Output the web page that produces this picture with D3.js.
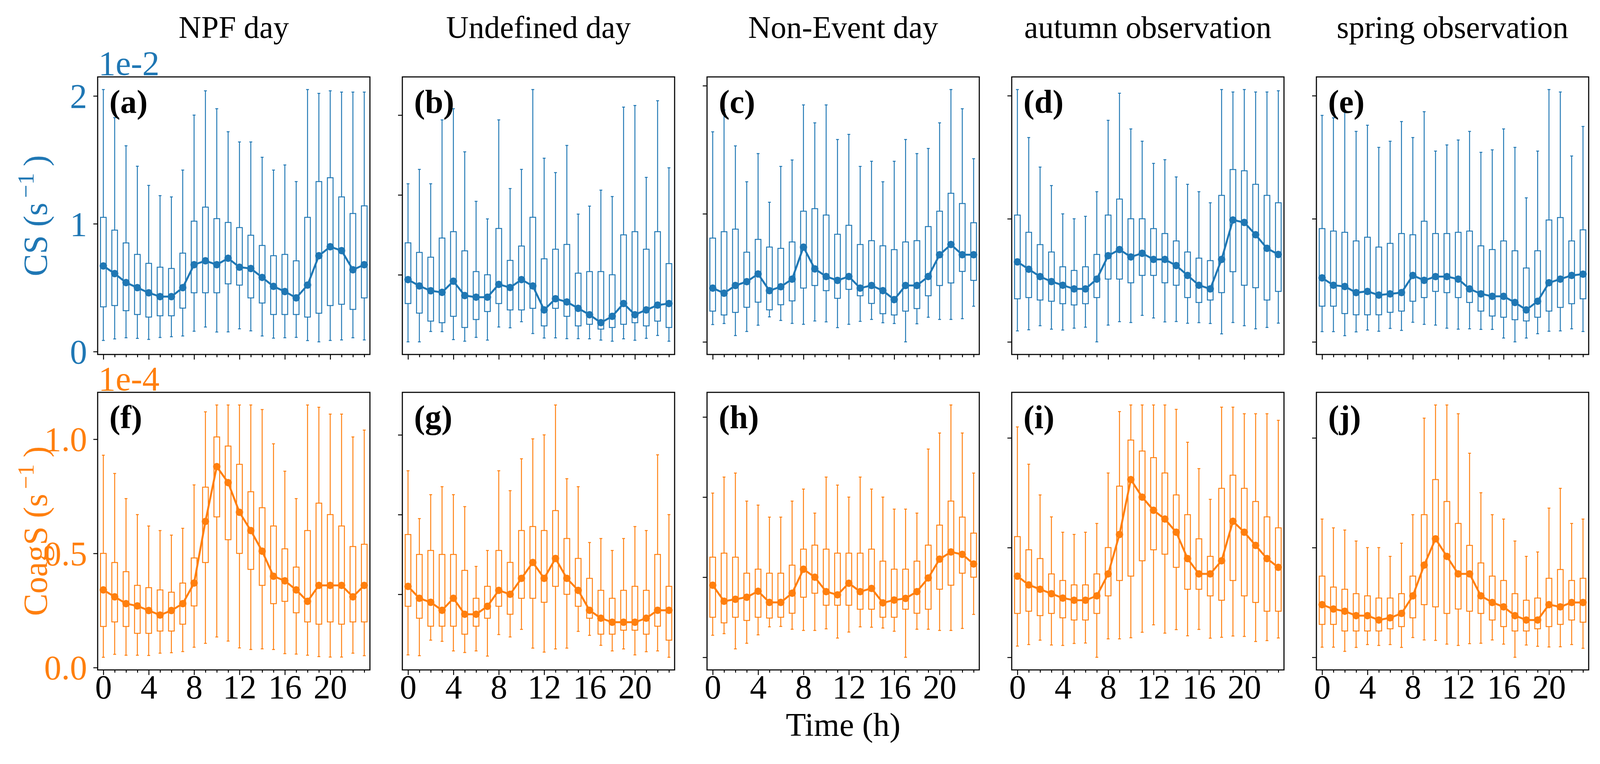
<!DOCTYPE html>
<html>
<head>
<meta charset="utf-8">
<script src="https://cdn.jsdelivr.net/npm/d3@7"></script>
<style>
  html, body { margin: 0; padding: 0; background: #fff; overflow: hidden; }
  svg { display: block; }
</style>
</head>
<body>
<div id="chart"></div>
<script>
// hours of the day, one box per hour
const hours = [0,1,2,3,4,5,6,7,8,9,10,11,12,13,14,15,16,17,18,19,20,21,22,23];
const hourLabels = ["0","4","8","12","16","20"];
const columnTitles = ["NPF day", "Undefined day", "Non-Event day", "autumn observation", "spring observation"];
const panelLetters = ["(a)","(b)","(c)","(d)","(e)","(f)","(g)","(h)","(i)","(j)"];

// CS, units of 1e-2 s^-1 : whisker high, q3, q1, whisker low, mean
const npfCsHi   = [2.05,1.83,1.61,1.45,1.30,1.22,1.21,1.42,1.85,2.04,1.90,1.72,1.64,1.64,1.52,1.42,1.46,1.33,2.05,2.02,2.04,2.03,2.03,2.03];
const npfCsQ3   = [1.05,0.95,0.85,0.76,0.69,0.66,0.65,0.77,1.02,1.13,1.04,1.01,0.97,0.91,0.83,0.75,0.76,0.71,1.05,1.33,1.36,1.21,1.08,1.14];
const npfCsQ1   = [0.35,0.36,0.32,0.29,0.27,0.28,0.28,0.34,0.46,0.46,0.46,0.53,0.52,0.42,0.38,0.29,0.29,0.29,0.27,0.30,0.36,0.37,0.33,0.42];
const npfCsLo   = [0.087,0.099,0.108,0.103,0.095,0.110,0.116,0.122,0.159,0.192,0.153,0.154,0.178,0.162,0.122,0.105,0.108,0.111,0.086,0.076,0.087,0.091,0.108,0.091];
const npfCsMean = [0.67,0.61,0.54,0.50,0.46,0.43,0.43,0.50,0.68,0.71,0.68,0.73,0.66,0.65,0.58,0.51,0.47,0.42,0.52,0.75,0.82,0.79,0.64,0.68];

const undCsHi   = [1.07,1.16,1.07,1.47,1.54,1.27,0.96,0.85,1.47,1.04,1.16,1.66,1.23,1.14,1.31,0.88,0.93,1.03,0.99,1.55,1.56,1.11,1.59,1.17];
const undCsQ3   = [0.70,0.64,0.61,0.73,0.77,0.65,0.52,0.50,0.79,0.59,0.68,0.86,0.60,0.66,0.69,0.51,0.52,0.52,0.50,0.75,0.77,0.66,0.77,0.57];
const undCsQ1   = [0.32,0.26,0.21,0.20,0.24,0.17,0.22,0.27,0.32,0.28,0.28,0.29,0.18,0.29,0.24,0.18,0.19,0.16,0.17,0.19,0.20,0.18,0.21,0.17];
const undCsLo   = [0.080,0.080,0.145,0.144,0.094,0.084,0.108,0.091,0.173,0.168,0.206,0.132,0.104,0.105,0.100,0.100,0.099,0.091,0.084,0.099,0.090,0.102,0.120,0.084];
const undCsMean = [0.47,0.43,0.40,0.39,0.46,0.37,0.36,0.36,0.44,0.42,0.47,0.43,0.28,0.35,0.33,0.29,0.25,0.20,0.24,0.32,0.25,0.28,0.31,0.32];

const nonCsHi   = [1.64,1.81,1.53,1.25,1.47,1.09,1.37,1.42,1.85,1.71,1.85,1.58,1.62,1.37,1.41,1.25,1.41,1.58,1.47,1.51,1.71,1.97,1.82,1.43];
const nonCsQ3   = [0.81,0.86,0.88,0.70,0.80,0.74,0.73,0.78,1.02,1.04,0.99,0.84,0.91,0.76,0.79,0.75,0.72,0.78,0.79,0.90,1.02,1.16,1.08,0.93];
const nonCsQ1   = [0.24,0.21,0.23,0.27,0.31,0.25,0.29,0.32,0.42,0.44,0.40,0.34,0.41,0.36,0.30,0.22,0.21,0.24,0.26,0.36,0.44,0.46,0.55,0.48];
const nonCsLo   = [0.135,0.143,0.049,0.081,0.130,0.195,0.167,0.144,0.137,0.163,0.156,0.111,0.137,0.160,0.175,0.149,0.143,0.000,0.141,0.192,0.175,0.175,0.181,0.278];
const nonCsMean = [0.42,0.38,0.44,0.47,0.53,0.40,0.43,0.49,0.74,0.57,0.51,0.48,0.51,0.42,0.44,0.40,0.33,0.44,0.44,0.51,0.68,0.76,0.68,0.68];

const autCsHi   = [2.05,1.66,1.42,1.27,1.04,1.00,1.02,1.22,1.80,2.02,1.73,1.63,1.45,1.48,1.34,1.28,1.22,1.13,2.05,2.03,2.05,2.03,2.03,2.04];
const autCsQ3   = [1.03,0.89,0.79,0.73,0.61,0.58,0.61,0.71,1.03,1.16,1.00,1.00,0.92,0.88,0.82,0.73,0.68,0.66,1.19,1.40,1.39,1.28,1.19,1.13];
const autCsQ1   = [0.35,0.36,0.34,0.33,0.31,0.30,0.31,0.36,0.51,0.51,0.48,0.54,0.54,0.48,0.46,0.36,0.32,0.34,0.40,0.57,0.46,0.44,0.34,0.41];
const autCsLo   = [0.089,0.098,0.131,0.103,0.096,0.111,0.119,0.000,0.136,0.164,0.157,0.215,0.194,0.162,0.165,0.151,0.156,0.149,0.065,0.157,0.131,0.106,0.117,0.152];
const autCsMean = [0.65,0.59,0.53,0.49,0.46,0.43,0.43,0.51,0.70,0.75,0.69,0.72,0.67,0.67,0.62,0.54,0.46,0.43,0.67,0.99,0.97,0.87,0.76,0.71];

const sprCsHi   = [1.84,1.82,1.88,1.71,1.76,1.58,1.63,1.79,1.66,1.87,1.55,1.60,1.64,1.71,1.54,1.56,1.73,1.58,1.17,1.55,2.05,2.03,1.51,1.75];
const sprCsQ3   = [0.92,0.90,0.89,0.82,0.85,0.77,0.80,0.88,0.87,0.98,0.88,0.88,0.89,0.90,0.78,0.75,0.82,0.74,0.60,0.74,0.99,1.01,0.82,0.91];
const sprCsQ1   = [0.29,0.29,0.23,0.22,0.22,0.22,0.24,0.25,0.33,0.36,0.41,0.40,0.36,0.32,0.25,0.21,0.20,0.18,0.17,0.20,0.25,0.28,0.31,0.35];
const sprCsLo   = [0.083,0.083,0.050,0.081,0.096,0.086,0.109,0.093,0.159,0.142,0.136,0.111,0.103,0.106,0.101,0.101,0.031,0.000,0.031,0.066,0.086,0.089,0.106,0.084];
const sprCsMean = [0.52,0.46,0.45,0.40,0.41,0.38,0.39,0.40,0.54,0.50,0.53,0.53,0.51,0.43,0.39,0.37,0.37,0.32,0.26,0.33,0.48,0.51,0.54,0.55];

// CoagS, units of 1e-4 s^-1
const npfCoHi   = [0.93,0.85,0.74,0.67,0.62,0.60,0.58,0.61,0.80,1.12,1.15,1.15,1.15,1.15,1.13,0.98,0.86,0.74,1.15,1.14,1.11,1.11,1.01,1.04];
const npfCoQ3   = [0.50,0.46,0.42,0.36,0.35,0.34,0.33,0.37,0.48,0.79,1.01,0.97,0.89,0.77,0.70,0.62,0.52,0.44,0.60,0.72,0.67,0.62,0.53,0.54];
const npfCoQ1   = [0.18,0.20,0.18,0.15,0.15,0.16,0.16,0.19,0.27,0.46,0.66,0.56,0.50,0.43,0.36,0.28,0.29,0.24,0.20,0.19,0.20,0.19,0.20,0.20];
const npfCoLo   = [0.045,0.058,0.054,0.054,0.053,0.063,0.065,0.070,0.089,0.106,0.134,0.116,0.086,0.079,0.082,0.079,0.061,0.059,0.054,0.048,0.046,0.046,0.063,0.052];
const npfCoMean = [0.34,0.31,0.28,0.27,0.25,0.23,0.25,0.28,0.37,0.64,0.88,0.81,0.68,0.60,0.51,0.40,0.38,0.34,0.29,0.36,0.36,0.36,0.31,0.36];

const undCoHi   = [0.51,0.39,0.45,0.47,0.45,0.42,0.27,0.31,0.51,0.46,0.54,0.59,0.60,0.675,0.49,0.47,0.33,0.34,0.31,0.34,0.37,0.36,0.55,0.40];
const undCoQ3   = [0.35,0.30,0.31,0.30,0.30,0.26,0.19,0.22,0.31,0.28,0.36,0.37,0.36,0.41,0.34,0.29,0.24,0.21,0.19,0.21,0.22,0.21,0.30,0.22];
const undCoQ1   = [0.17,0.14,0.12,0.12,0.12,0.10,0.12,0.14,0.17,0.15,0.19,0.19,0.18,0.22,0.20,0.17,0.14,0.10,0.10,0.11,0.11,0.10,0.12,0.085];
const undCoLo   = [0.048,0.046,0.085,0.082,0.058,0.054,0.058,0.045,0.099,0.093,0.112,0.065,0.055,0.063,0.065,0.107,0.097,0.072,0.058,0.063,0.048,0.056,0.058,0.042];
const undCoMean = [0.22,0.19,0.18,0.16,0.19,0.15,0.15,0.17,0.21,0.20,0.24,0.28,0.24,0.29,0.24,0.21,0.16,0.14,0.13,0.13,0.13,0.14,0.16,0.16];

const nonCoHi   = [0.41,0.45,0.46,0.39,0.38,0.35,0.35,0.39,0.42,0.36,0.45,0.43,0.40,0.45,0.42,0.40,0.37,0.37,0.36,0.52,0.56,0.63,0.56,0.46];
const nonCoQ3   = [0.25,0.26,0.25,0.21,0.22,0.21,0.21,0.23,0.27,0.28,0.27,0.26,0.26,0.26,0.27,0.24,0.22,0.22,0.24,0.28,0.33,0.39,0.35,0.31];
const nonCoQ1   = [0.10,0.086,0.10,0.092,0.10,0.098,0.10,0.11,0.15,0.16,0.13,0.13,0.13,0.12,0.12,0.10,0.10,0.12,0.11,0.12,0.17,0.18,0.21,0.20];
const nonCoLo   = [0.055,0.059,0.021,0.035,0.056,0.076,0.077,0.070,0.067,0.067,0.071,0.048,0.063,0.076,0.075,0.073,0.065,0.000,0.070,0.070,0.067,0.067,0.072,0.107];
const nonCoMean = [0.18,0.14,0.145,0.15,0.165,0.137,0.137,0.16,0.22,0.20,0.164,0.156,0.185,0.164,0.172,0.136,0.143,0.147,0.164,0.198,0.245,0.263,0.257,0.233];

const autCoHi   = [1.05,0.88,0.74,0.64,0.57,0.56,0.57,0.61,0.84,1.12,1.15,1.15,1.15,1.15,1.13,0.98,0.86,0.72,1.14,1.14,1.11,1.11,1.11,1.08];
const autCoQ3   = [0.55,0.49,0.45,0.38,0.35,0.33,0.33,0.38,0.50,0.78,0.99,0.94,0.91,0.84,0.74,0.65,0.54,0.46,0.77,0.83,0.77,0.71,0.64,0.59];
const autCoQ1   = [0.20,0.21,0.19,0.20,0.18,0.17,0.17,0.20,0.28,0.35,0.37,0.44,0.49,0.47,0.41,0.31,0.31,0.28,0.26,0.35,0.28,0.25,0.21,0.21];
const autCoLo   = [0.051,0.058,0.078,0.056,0.054,0.063,0.065,0.000,0.084,0.084,0.089,0.114,0.148,0.110,0.126,0.098,0.127,0.087,0.091,0.097,0.095,0.072,0.076,0.088];
const autCoMean = [0.37,0.33,0.31,0.29,0.27,0.26,0.26,0.28,0.38,0.56,0.81,0.73,0.67,0.63,0.57,0.45,0.38,0.38,0.44,0.62,0.57,0.51,0.45,0.41];

const sprCoHi   = [0.63,0.59,0.58,0.53,0.50,0.50,0.46,0.52,0.65,1.09,1.15,1.15,1.11,0.93,0.75,0.65,0.63,0.53,0.46,0.48,0.68,0.77,0.61,0.63];
const sprCoQ3   = [0.37,0.32,0.31,0.29,0.28,0.27,0.27,0.29,0.37,0.65,0.81,0.71,0.61,0.51,0.43,0.37,0.35,0.29,0.26,0.27,0.36,0.40,0.35,0.36];
const sprCoQ1   = [0.15,0.15,0.12,0.12,0.12,0.12,0.13,0.14,0.18,0.24,0.23,0.20,0.22,0.21,0.20,0.17,0.14,0.12,0.12,0.13,0.14,0.15,0.17,0.16];
const sprCoLo   = [0.046,0.046,0.027,0.045,0.058,0.054,0.058,0.045,0.090,0.079,0.077,0.060,0.054,0.062,0.064,0.079,0.060,0.000,0.056,0.050,0.047,0.048,0.058,0.041];
const sprCoMean = [0.24,0.22,0.21,0.19,0.19,0.17,0.18,0.20,0.28,0.42,0.54,0.46,0.38,0.38,0.28,0.25,0.23,0.19,0.17,0.17,0.24,0.23,0.25,0.25];

// y tick values per panel (only first column shows labels)
const csTicks = [[0,1,2],[0.5,1,1.5],[0,1,2],[0,1,2],[0,1,2]];
const coTicks = [[0,0.5,1],[0.2,0.4,0.6],[0,0.2,0.4,0.6],[0,0.5,1],[0,0.5,1]];

const csSeries = [
  [npfCsLo, npfCsQ1, npfCsQ3, npfCsHi, npfCsMean],
  [undCsLo, undCsQ1, undCsQ3, undCsHi, undCsMean],
  [nonCsLo, nonCsQ1, nonCsQ3, nonCsHi, nonCsMean],
  [autCsLo, autCsQ1, autCsQ3, autCsHi, autCsMean],
  [sprCsLo, sprCsQ1, sprCsQ3, sprCsHi, sprCsMean]
];
const coSeries = [
  [npfCoLo, npfCoQ1, npfCoQ3, npfCoHi, npfCoMean],
  [undCoLo, undCoQ1, undCoQ3, undCoHi, undCoMean],
  [nonCoLo, nonCoQ1, nonCoQ3, nonCoHi, nonCoMean],
  [autCoLo, autCoQ1, autCoQ3, autCoHi, autCoMean],
  [sprCoLo, sprCoQ1, sprCoQ3, sprCoHi, sprCoMean]
];

const W = 4204, H = 1957;
const FONT = "'Liberation Serif', 'Times New Roman', serif";
const BLUE = "#1f77b4", ORANGE = "#ff7f0e";

const panelLeft0 = 250, panelW = 697, panelPitch = 780;
const rows = [
  { top: 197, bottom: 908, color: BLUE, series: csSeries, ticks: csTicks, fmt: d3.format("d"), offset: "1e-2", name: "CS" },
  { top: 1005, bottom: 1716, color: ORANGE, series: coSeries, ticks: coTicks, fmt: d3.format(".1f"), offset: "1e-4", name: "CoagS" }
];

const svg = d3.select("#chart").append("svg")
  .attr("width", W)
  .attr("height", H)
  .style("font-family", FONT);

svg.append("rect").attr("width", W).attr("height", H).attr("fill", "#fff");

// column titles
columnTitles.forEach((t, c) => {
  svg.append("text")
    .attr("x", panelLeft0 + c * panelPitch + panelW / 2)
    .attr("y", 97)
    .attr("text-anchor", "middle")
    .attr("font-size", 80)
    .attr("fill", "#000")
    .text(t);
});

rows.forEach((row, r) => {
  row.series.forEach((s, c) => {
    const [lo, q1, q3, hi, mean] = s;
    const left = panelLeft0 + c * panelPitch;
    const right = left + panelW;

    const x = d3.scaleLinear().domain([-0.5, 23.5]).range([left, right]);
    const dmin = d3.min(lo), dmax = d3.max(hi);
    const pad = (dmax - dmin) * 0.05;
    const y = d3.scaleLinear().domain([dmin - pad, dmax + pad]).range([row.bottom, row.top]);

    const step = x(1) - x(0);
    const boxW = step * 0.5, capW = step * 0.25;
    const g = svg.append("g");

    // whiskers and caps
    const wh = g.append("g").attr("stroke", row.color).attr("stroke-width", 2.4).attr("fill", "none");
    hours.forEach(h => {
      const cx = x(h);
      wh.append("line").attr("x1", cx).attr("x2", cx).attr("y1", y(q3[h])).attr("y2", y(hi[h]));
      wh.append("line").attr("x1", cx).attr("x2", cx).attr("y1", y(q1[h])).attr("y2", y(lo[h]));
      wh.append("line").attr("x1", cx - capW / 2).attr("x2", cx + capW / 2).attr("y1", y(hi[h])).attr("y2", y(hi[h]));
      wh.append("line").attr("x1", cx - capW / 2).attr("x2", cx + capW / 2).attr("y1", y(lo[h])).attr("y2", y(lo[h]));
    });

    // boxes
    g.append("g").selectAll("rect")
      .data(hours)
      .join("rect")
      .attr("x", h => x(h) - boxW / 2)
      .attr("width", boxW)
      .attr("y", h => y(q3[h]))
      .attr("height", h => y(q1[h]) - y(q3[h]))
      .attr("fill", "#fff")
      .attr("stroke", row.color)
      .attr("stroke-width", 2.4);

    // mean line with dots
    const line = d3.line().x(h => x(h)).y(h => y(mean[h]));
    g.append("path")
      .datum(hours)
      .attr("d", line)
      .attr("fill", "none")
      .attr("stroke", row.color)
      .attr("stroke-width", 5);
    g.append("g").selectAll("circle")
      .data(hours)
      .join("circle")
      .attr("cx", h => x(h))
      .attr("cy", h => y(mean[h]))
      .attr("r", 9.5)
      .attr("fill", row.color);

    // y axis
    const yAxis = d3.axisLeft(y)
      .tickValues(row.ticks[c])
      .tickSize(11)
      .tickPadding(16)
      .tickFormat(c === 0 ? row.fmt : () => "");
    const ya = svg.append("g").attr("transform", `translate(${left},0)`).call(yAxis);
    ya.select(".domain").remove();
    ya.selectAll(".tick line").attr("stroke", "#000").attr("stroke-width", 2.4);
    ya.selectAll(".tick text")
      .attr("font-family", FONT)
      .attr("font-size", 88)
      .attr("fill", row.color)
      .attr("dy", "0.34em");

    // x axis: every hour ticked, labels every 4 h on the bottom row
    const xAxis = d3.axisBottom(x)
      .tickValues(hours)
      .tickSize(12)
      .tickPadding(10)
      .tickFormat(h => (r === 1 && hourLabels.includes(String(h))) ? String(h) : "");
    const xa = svg.append("g").attr("transform", `translate(0,${row.bottom})`).call(xAxis);
    xa.select(".domain").remove();
    xa.selectAll(".tick line")
      .attr("stroke", "#000")
      .attr("stroke-width", 2.4)
      .attr("y2", h => h % 4 === 0 ? 13 : 7);
    xa.selectAll(".tick text")
      .attr("font-family", FONT)
      .attr("font-size", 86)
      .attr("fill", "#000")
      .attr("y", 12)
      .attr("dy", "0.71em");

    // frame
    svg.append("rect")
      .attr("x", left)
      .attr("y", row.top)
      .attr("width", panelW)
      .attr("height", row.bottom - row.top)
      .attr("fill", "none")
      .attr("stroke", "#000")
      .attr("stroke-width", 2.8);

    // panel letter
    svg.append("text")
      .attr("x", left + 30)
      .attr("y", row.top + 92)
      .attr("font-size", 84)
      .attr("font-weight", "bold")
      .attr("fill", "#000")
      .text(panelLetters[r * 5 + c]);
  });

  // offset text above first column
  svg.append("text")
    .attr("x", panelLeft0 + 2)
    .attr("y", row.top - 5)
    .attr("font-size", 88)
    .attr("fill", row.color)
    .text(row.offset);

  // y label with superscript
  const cy = (row.top + row.bottom) / 2;
  const lab = svg.append("text")
    .attr("transform", `translate(120,${cy}) rotate(-90)`)
    .attr("text-anchor", "middle")
    .attr("font-size", 86)
    .attr("fill", row.color);
  lab.append("tspan").text(row.name + " (s");
  lab.append("tspan").attr("font-size", 60).attr("dy", -34).text("\u2009\u22121");
  lab.append("tspan").attr("dy", 34).text("\u2009)");
});

// shared x label
svg.append("text")
  .attr("x", panelLeft0 + 2 * panelPitch + panelW / 2)
  .attr("y", 1885)
  .attr("text-anchor", "middle")
  .attr("font-size", 84)
  .attr("fill", "#000")
  .text("Time (h)");
</script>
</body>
</html>
